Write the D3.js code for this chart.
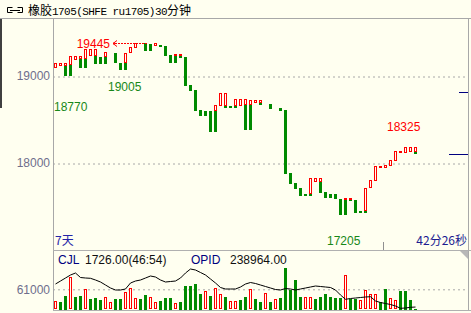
<!DOCTYPE html>
<html>
<head>
<meta charset="utf-8">
<script src="https://cdn.jsdelivr.net/npm/d3@7"></script>
<style>
  html, body { margin: 0; padding: 0; background: #fffff0; }
  svg { display: block; }
  text { font-family: "Liberation Sans", Arial, sans-serif; }
</style>
</head>
<body>
<div id="chart"></div>
<script>
// 宝塔线 bars (30 min): red part from high to mid, green part from mid to low, null = no change
const towerHigh = [19146, 19146, 19146, 19230, 19230, 19230, 19307, 19307, 19307, 19222,
  19276, null, 19276, 19153, 19268, 19333, 19376, 19383, 19383, 19376,
  19376, 19356, 19345, 19241, 19253, 19253, 19215, 18897, 18839, 18609,
  18598, 18598, 18667, 18801, 18801, 18659, 18732, 18732, 18732, 18724,
  18724, 18724, null, 18678, null, 18636, 18609, 17882, 17774, 17716,
  17644, 17828, 17828, 17828, 17670, 17644, 17644, 17586, 17594, 17594,
  17575, 17448, 17709, 17805, 17966, 17966, 17977, 18035, 18138, 18138,
  18187, 18187, 18187];
const towerMid = [19089, 19115, 19118, 19123, 19184, 19192, 19192, 19230, 19230, 19222,
  19222, null, 19268, 19153, 19153, 19261, 19325, 19371, 19376, 19364,
  19348, 19356, 19345, 19241, 19233, 19230, 19215, 18897, 18839, 18609,
  18598, 18598, 18598, 18659, 18659, 18659, 18659, 18659, 18667, 18667,
  18686, 18686, null, 18678, null, 18636, 18609, 17882, 17774, 17716,
  17644, 17640, 17785, 17785, 17670, 17644, 17644, 17586, 17575, 17575,
  17575, 17448, 17448, 17709, 17797, 17939, 17939, 17969, 18026, 18118,
  18118, 18130, 18130];
const towerLow = [19089, 19115, 19000, 19000, 19184, 19095, 19095, 19230, 19134, 19134,
  19134, null, 19153, 19066, 19066, 19261, 19325, 19371, 19287, 19291,
  19348, 19337, 19233, 19153, 19153, 19210, 18889, 18831, 18601, 18544,
  18544, 18360, 18360, 18659, 18636, 18636, 18636, 18659, 18379, 18379,
  18686, 18667, null, 18621, null, 18598, 17874, 17759, 17701, 17621,
  17621, 17621, 17785, 17659, 17601, 17601, 17583, 17402, 17402, 17563,
  17429, 17429, 17429, 17709, 17797, 17939, 17939, 17969, 18026, 18118,
  18118, 18130, 18103];

// CJL volume per bar and whether the bar was drawn red (1) or green (0)
const volume = [25300, 23200, 40600, 97600, 38400, 40600, 61900, 30500, 33500, 28400,
  36600, 23200, 30500, 30500, 53700, 64000, 33500, 30500, 43600, 36600,
  23200, 26200, 33500, 33500, 20100, 23200, 71100, 71100, 76200, 46700,
  55800, 40600, 64000, 46700, 36600, 26200, 26200, 28400, 36600, 61900,
  30500, 23200, 48800, 23200, 30500, 33500, 125000, 58900, 89400, 36600,
  36600, 36600, 30500, 36600, 46700, 36600, 33500, 33500, 104600, 30500,
  30500, 28400, 58900, 46700, 46700, 23200, 61900, 33500, 28400, 55800,
  55800, 28400, 1726];
const volRise = [1, 0, 0, 1, 0, 0, 1, 0, 0, 0,
  1, 1, 0, 0, 1, 1, 1, 0, 0, 1,
  1, 0, 0, 0, 1, 0, 0, 0, 0, 0,
  1, 0, 1, 1, 0, 1, 1, 0, 0, 1,
  0, 0, 1, 0, 1, 0, 0, 0, 0, 0,
  1, 1, 0, 0, 0, 0, 0, 0, 1, 0,
  0, 1, 1, 1, 1, 0, 0, 1, 1, 0,
  0, 0, 0];

// OPID open interest
const openInterest = [244725, 245475, 246225, 246975, 247475, 246350, 246225, 246150, 245725, 245225,
  244475, 243725, 243225, 243225, 243475, 244975, 245475, 245725, 246225, 246725,
  246475, 245725, 245225, 245350, 245475, 246225, 247475, 248475, 248225, 247600,
  246975, 245975, 244975, 243850, 243475, 243475, 243475, 243975, 244725, 245100,
  244850, 244475, 244100, 243725, 243350, 243225, 243600, 243475, 243225, 243475,
  243725, 243975, 244225, 244100, 243975, 243850, 243225, 241975, 240900, 241100,
  241225, 241350, 241475, 241550, 240475, 240100, 239850, 239600, 239225, 238650,
  238725, 238900, 238964];

const priceTicks = [18000, 19000];
const volumeTicks = [61000];
const markerPrices = [18820, 18105];

const title = ['橡胶', '1705(SHFE ru1705)30', '分钟'];
const extremeValues = [19445, 19005, 18770, 18325, 17205];
const extremeIndex = [18, 11, 0, 67, 55];

const width = 471, height = 313;
const left = 53, right = 468;
const red = '#ff0000', green = '#008a00';

const svg = d3.select('#chart').append('svg')
  .attr('width', width)
  .attr('height', height);

svg.append('rect').attr('width', width).attr('height', height).attr('fill', '#fffff0');

const idx = d3.range(towerHigh.length);
const x = d3.scaleBand()
  .domain(idx)
  .range([54, 417])
  .paddingInner(0.4)
  .paddingOuter(0);
const bw = x.bandwidth();

const y = d3.scaleLinear().domain([18000, 19000]).range([163, 76]);
const yVol = d3.scaleLinear().domain([0, 61000]).range([309.3, 289.3]);
const yOi = d3.scaleLinear().domain([238400, 248400]).range([309.3, 269.3]);

// title bar
svg.append('line').attr('x1', 0).attr('x2', width).attr('y1', 18.5).attr('y2', 18.5)
  .attr('stroke', '#a8a8a8');
svg.append('line').attr('x1', 1).attr('x2', 1).attr('y1', 19).attr('y2', 108)
  .attr('stroke', '#404040').attr('stroke-width', 2);
const icon = svg.append('g').attr('stroke', '#000').attr('fill', 'none');
icon.append('path').attr('d', 'M12.5,7.5 H7.5 V12.5 H12.5');
icon.append('path').attr('d', 'M17.5,7.5 H22.5 V12.5 H17.5');
icon.append('line').attr('x1', 10).attr('x2', 20).attr('y1', 10.5).attr('y2', 10.5);

const t = svg.append('text').attr('x', 28).attr('y', 15).attr('fill', '#000');
t.append('tspan').style('font-family', '"Noto Sans CJK SC"').style('font-size', '12px').text(title[0]);
t.append('tspan').style('font-family', '"Liberation Mono", monospace').style('font-size', '11px')
  .attr('letter-spacing', '-0.55').text(title[1]);
t.append('tspan').style('font-family', '"Noto Sans CJK SC"').style('font-size', '12px').text(title[2]);

// frame
svg.append('line').attr('x1', left + 0.5).attr('x2', left + 0.5).attr('y1', 19).attr('y2', 310)
  .attr('stroke', '#a8a8a8');
svg.append('line').attr('x1', right + 0.5).attr('x2', right + 0.5).attr('y1', 19).attr('y2', 310)
  .attr('stroke', '#a8a8a8');
svg.append('line').attr('x1', left).attr('x2', width).attr('y1', 250.5).attr('y2', 250.5)
  .attr('stroke', '#b0b0b0');
svg.append('line').attr('x1', left).attr('x2', width).attr('y1', 310.5).attr('y2', 310.5)
  .attr('stroke', '#b0b0b0');

// price axis with dotted grid
const yAxis = d3.axisLeft(y).tickValues(priceTicks).tickFormat(d3.format('d'))
  .tickSize(-(right - left - 1)).tickPadding(3);
const gy = svg.append('g').attr('transform', `translate(${left},0)`).call(yAxis);
gy.select('.domain').remove();
gy.selectAll('line').attr('stroke', '#a8a8a8').attr('stroke-dasharray', '2,3')
  .attr('transform', 'translate(0,0.5)');
gy.selectAll('text').attr('fill', '#6e6e8c').style('font-size', '12px')
  .style('font-family', '"Liberation Sans", Arial, sans-serif');

// volume axis
const vAxis = d3.axisLeft(yVol).tickValues(volumeTicks).tickFormat(d3.format('d'))
  .tickSize(-(right - left - 1)).tickPadding(3);
const gv = svg.append('g').attr('transform', `translate(${left},0)`).call(vAxis);
gv.select('.domain').remove();
gv.selectAll('line').attr('stroke', '#a8a8a8').attr('stroke-dasharray', '2,3');
gv.selectAll('text').attr('fill', '#6e6e8c').style('font-size', '12px')
  .style('font-family', '"Liberation Sans", Arial, sans-serif');

// tower bars
const bars = idx.filter(i => towerHigh[i] !== null);
const px = v => Math.round(y(v));

svg.append('g').selectAll('rect')
  .data(bars.filter(i => towerHigh[i] > towerMid[i]))
  .join('rect')
  .attr('x', i => x(i) + 0.5)
  .attr('y', i => px(towerHigh[i]) + 0.5)
  .attr('width', bw - 1)
  .attr('height', i => Math.max(px(towerMid[i]) - px(towerHigh[i]) - 1, 0))
  .attr('fill', 'none')
  .attr('stroke', red);

svg.append('g').selectAll('rect')
  .data(bars.filter(i => towerMid[i] > towerLow[i]))
  .join('rect')
  .attr('x', i => x(i))
  .attr('y', i => px(towerMid[i]))
  .attr('width', bw)
  .attr('height', i => Math.max(px(towerLow[i]) - px(towerMid[i]), 1))
  .attr('fill', green)
  .attr('shape-rendering', 'crispEdges');

// extremes
const exColor = [red, '#188818', '#188818', red, '#188818'];
const exDx = [-34, -1, 0, -2, -2];
const exDy = [11, 15, 14.5, -4, 13];
const exAnchor = ['end', 'start', 'start', 'start', 'start'];
svg.append('g').selectAll('text')
  .data(extremeValues)
  .join('text')
  .attr('x', (d, k) => x(extremeIndex[k]) + exDx[k])
  .attr('y', (d, k) => y(d) + exDy[k])
  .attr('text-anchor', (d, k) => exAnchor[k])
  .attr('fill', (d, k) => exColor[k])
  .style('font-size', '12px')
  .text(d => d);

// arrow to the high
const ay = Math.round(y(extremeValues[0]) + 5.5) + 0.5;
const ax1 = x(extremeIndex[0]) + 3, ax0 = x(extremeIndex[0]) - 31;
svg.append('line').attr('x1', ax0 + 2).attr('x2', ax1).attr('y1', ay).attr('y2', ay)
  .attr('stroke', red).attr('stroke-dasharray', '2,1');
svg.append('path').attr('d', `M${ax0 + 4},${ay - 3} L${ax0},${ay} L${ax0 + 4},${ay + 3}`)
  .attr('fill', 'none').attr('stroke', red);
svg.append('circle').attr('cx', ax0 + 1).attr('cy', ay).attr('r', 1).attr('fill', red);

// price markers on the right
const markerLen = [9, 19];
svg.append('g').selectAll('line')
  .data(markerPrices)
  .join('line')
  .attr('x1', (d, k) => right - markerLen[k])
  .attr('x2', right)
  .attr('y1', d => Math.round(y(d)) + 0.5)
  .attr('y2', d => Math.round(y(d)) + 0.5)
  .attr('stroke', '#000080');

// bottom texts of the price panel
svg.append('text').attr('x', 55).attr('y', 245).attr('fill', '#2424a8')
  .style('font-family', '"Noto Sans CJK SC"').style('font-size', '12px').text('7天');
svg.append('text').attr('x', 467).attr('y', 245).attr('text-anchor', 'end').attr('fill', '#1c1c90')
  .style('font-family', '"Noto Sans CJK SC"').style('font-size', '12px').text('42分26秒');
svg.append('line').attr('x1', 383.5).attr('x2', 383.5).attr('y1', 242).attr('y2', 250)
  .attr('stroke', '#909090');
svg.append('path').attr('d', `M460,251 L${right},251 L${right},259 Z`).attr('fill', '#b8b8b8');

// volume header
const hdr = svg.append('g').style('font-size', '12px');
hdr.append('text').attr('x', 58).attr('y', 264).attr('fill', '#000080').text('CJL');
hdr.append('text').attr('x', 85).attr('y', 264).attr('fill', '#101010')
  .text(d3.format('.2f')(volume[volume.length - 1]) + '(46:54)');
hdr.append('text').attr('x', 191).attr('y', 264).attr('fill', '#000080').text('OPID');
hdr.append('text').attr('x', 230).attr('y', 264).attr('fill', '#101010')
  .text(d3.format('.2f')(openInterest[openInterest.length - 1]));

// volume bars
svg.append('g').selectAll('rect')
  .data(idx.filter(i => volRise[i]))
  .join('rect')
  .attr('x', i => x(i) + 0.5)
  .attr('y', i => Math.round(yVol(volume[i])) + 0.5)
  .attr('width', bw - 1)
  .attr('height', i => Math.max(309 - Math.round(yVol(volume[i])) - 1, 0))
  .attr('fill', 'none')
  .attr('stroke', red);

svg.append('g').selectAll('rect')
  .data(idx.filter(i => !volRise[i]))
  .join('rect')
  .attr('x', i => x(i))
  .attr('y', i => Math.round(yVol(volume[i])))
  .attr('width', bw)
  .attr('height', i => Math.max(310 - Math.round(yVol(volume[i])), 0))
  .attr('fill', green)
  .attr('shape-rendering', 'crispEdges');

// open interest line
svg.append('path')
  .datum(idx)
  .attr('fill', 'none')
  .attr('stroke', '#000')
  .attr('stroke-width', 1)
  .attr('d', d3.line().x(i => x(i) + bw / 2).y(i => yOi(openInterest[i])));
</script>
</body>
</html>
